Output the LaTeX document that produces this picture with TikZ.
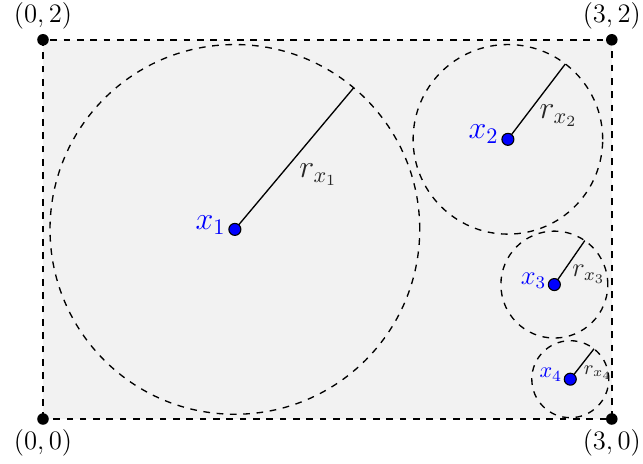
\documentclass[tikz,border=0pt]{standalone}
\usetikzlibrary{calc}
\begin{document}
\begin{tikzpicture}[x=3cm,y=3cm,
  cornerdot/.style={circle,fill=black,inner sep=0pt,minimum size=5.2pt},
  centerdot/.style={circle,fill=blue,draw=black,line width=0.5pt,inner sep=0pt,minimum size=5.4pt},
  ball/.style={dashed,semithick},
  radius/.style={semithick},
  xlab/.style={text=blue,inner sep=1pt},
  rlab/.style={text=black!85},
  clab/.style={font=\fontsize{12.8}{15}\selectfont,inner sep=1.8pt}]
\useasboundingbox (-0.2268,-0.2321) rectangle (3.1646,2.2099);
% region
\coordinate (p00) at (0,0);
\coordinate (p30) at (3,0);
\coordinate (p32) at (3,2);
\coordinate (p02) at (0,2);
\draw[thick,dashed,fill=gray!10] (p00) rectangle (p32);
% centers
\coordinate (c1) at (1.012,1.0);
\coordinate (c2) at (2.452,1.475);
\coordinate (c3) at (2.697,0.709);
\coordinate (c4) at (2.781,0.210);
% balls
\draw[ball] (c1) circle (0.975);
\draw[ball] (c2) circle (0.5);
\draw[ball] (c3) circle (0.282);
\draw[ball] (c4) circle (0.203);
% radius end points
\coordinate (e1) at ($(c1)+(50:0.975)$);
\coordinate (e2) at ($(c2)+(52.7:0.5)$);
\coordinate (e3) at ($(c3)+(55.3:0.282)$);
\coordinate (e4) at ($(c4)+(52:0.203)$);
\draw[radius] (c1) -- (e1) node[midway,below right,rlab,font=\Large,inner sep=2pt] {$r_{x_1}$};
\draw[radius] (c2) -- (e2) node[midway,below right,rlab,font=\Large,inner sep=1pt] {$r_{x_2}$};
\draw[radius] (c3) -- (e3) node[midway,below right,rlab,font=\large,inner sep=1pt] {$r_{x_3}$};
\draw[radius] (c4) -- (e4) node[midway,below right,rlab,font=\small,inner sep=0.5pt] {$r_{x_4}$};
% center dots
\node[centerdot,label={[xlab,font=\Large,yshift=2pt]left:$x_1$}] (x1) at (c1) {};
\node[centerdot,label={[xlab,font=\Large,yshift=2.5pt]left:$x_2$}] (x2) at (c2) {};
\node[centerdot,label={[xlab,font=\large,yshift=1.5pt,inner sep=0.5pt]left:$x_3$}] (x3) at (c3) {};
\node[centerdot,label={[xlab,font=\normalsize,yshift=2pt,inner sep=0.5pt]left:$x_4$}] (x4) at (c4) {};
% corners
\node[cornerdot,label={[clab]above:$(0,2)$}] (k02) at (p02) {};
\node[cornerdot,label={[clab]above:$(3,2)$}] (k32) at (p32) {};
\node[cornerdot,label={[clab]below:$(0,0)$}] (k00) at (p00) {};
\node[cornerdot,label={[clab]below:$(3,0)$}] (k30) at (p30) {};
\end{tikzpicture}
\end{document}
